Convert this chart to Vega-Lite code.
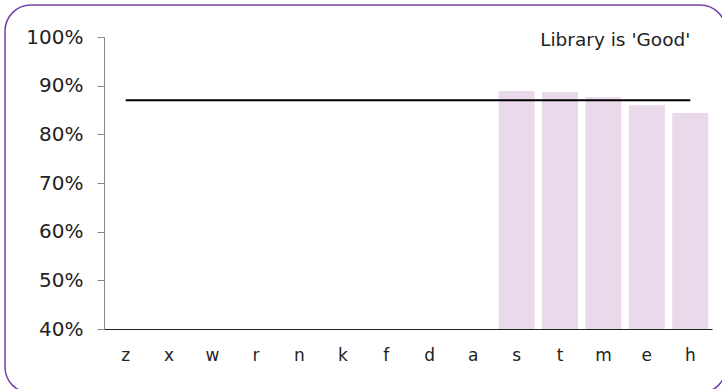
{
  "$schema": "https://vega.github.io/schema/vega-lite/v6.json",
  "width": 721,
  "height": 388,
  "autosize": {"type": "none"},
  "padding": {"left": 5, "top": 5, "right": 0, "bottom": 0},
  "background": "white",
  "config": {
    "view": {"stroke": "#7440A8", "strokeWidth": 1.5, "cornerRadius": 26},
    "font": "DejaVu Sans"
  },
  "data": {
    "values": [
      {"cat": "z", "val": null, "target": 0.87},
      {"cat": "x", "val": null, "target": 0.87},
      {"cat": "w", "val": null, "target": 0.87},
      {"cat": "r", "val": null, "target": 0.87},
      {"cat": "n", "val": null, "target": 0.87},
      {"cat": "k", "val": null, "target": 0.87},
      {"cat": "f", "val": null, "target": 0.87},
      {"cat": "d", "val": null, "target": 0.87},
      {"cat": "a", "val": null, "target": 0.87},
      {"cat": "s", "val": 0.889, "target": 0.87},
      {"cat": "t", "val": 0.887, "target": 0.87},
      {"cat": "m", "val": 0.876, "target": 0.87},
      {"cat": "e", "val": 0.86, "target": 0.87},
      {"cat": "h", "val": 0.844, "target": 0.87}
    ]
  },
  "encoding": {
    "x": {
      "field": "cat", "type": "nominal", "sort": null,
      "scale": {"domain": ["z", "x", "w", "r", "n", "k", "f", "d", "a", "s", "t", "m", "e", "h"], "range": [99, 707], "paddingInner": 0.17, "paddingOuter": 0.085},
      "axis": {
        "title": null, "labelAngle": 0, "ticks": false, "offset": -64,
        "domainColor": "#222", "domainWidth": 1,
        "labelFont": "DejaVu Sans", "labelFontSize": 17, "labelColor": "#222", "labelPadding": 18
      }
    }
  },
  "layer": [
    {
      "mark": {"type": "bar", "color": "#EAD8EB"},
      "encoding": {
        "y": {
          "field": "val", "type": "quantitative",
          "scale": {"domain": [0.4, 1.0], "range": [324, 32], "zero": false, "nice": false},
          "axis": {
            "title": null, "format": ".0%", "values": [0.4, 0.5, 0.6, 0.7, 0.8, 0.9, 1.0],
            "offset": -99, "grid": false, "domainColor": "#888", "tickColor": "#888", "tickSize": 7,
            "labelFont": "DejaVu Sans", "labelFontSize": 20, "labelColor": "#222", "labelPadding": 14
          }
        },
        "y2": {"datum": 0.4}
      }
    },
    {
      "mark": {"type": "line", "color": "black", "strokeWidth": 2},
      "encoding": {
        "y": {"field": "target", "type": "quantitative"}
      }
    },
    {
      "data": {"values": [{"label": "Library is 'Good'", "cat": "h", "pos": 1.0}]},
      "mark": {"type": "text", "align": "right", "baseline": "middle", "fontSize": 18.5, "color": "#222", "dy": 3},
      "encoding": {
        "x": {"field": "cat", "type": "nominal"},
        "y": {"field": "pos", "type": "quantitative"},
        "text": {"field": "label"}
      }
    }
  ]
}
